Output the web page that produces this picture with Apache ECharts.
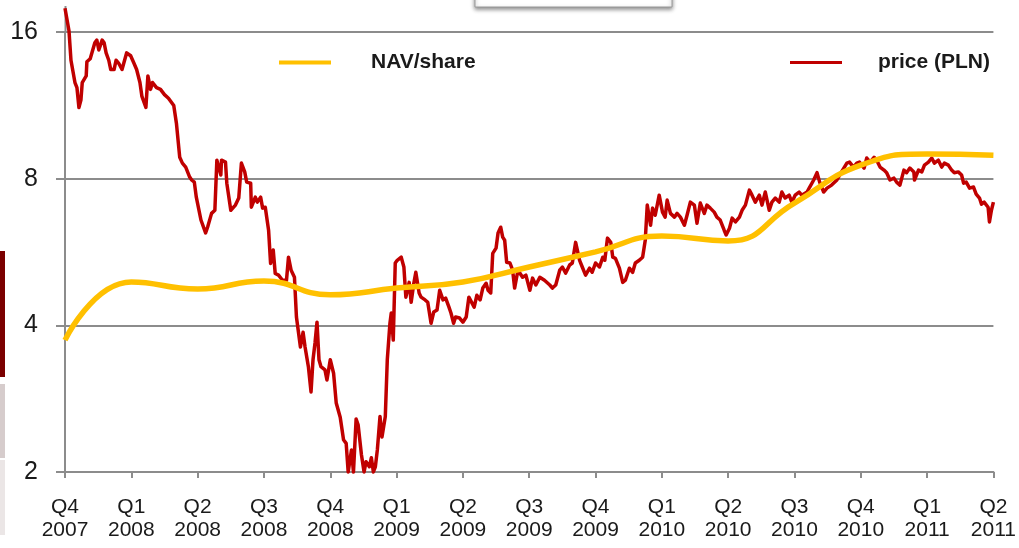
<!DOCTYPE html>
<html>
<head>
<meta charset="utf-8">
<script src="https://cdn.jsdelivr.net/npm/echarts@6/dist/echarts.min.js"></script>
<style>html,body{margin:0;padding:0;background:#fff;}#c{width:1019px;height:548px;}</style>
</head>
<body>
<div id="c"></div>
<script>
// Quarter tick labels (x positions 0..14)
const quarterLabels = ['Q4\n2007','Q1\n2008','Q2\n2008','Q3\n2008','Q4\n2008','Q1\n2009','Q2\n2009','Q3\n2009','Q4\n2009','Q1\n2010','Q2\n2010','Q3\n2010','Q4\n2010','Q1\n2011','Q2\n2011'];
const yTicks = [2, 4, 8, 16];

// NAV/share, one value per quarter
const navValues = [3.73, 4.91, 4.75, 4.93, 4.62, 4.77, 4.91, 5.27, 5.66, 6.10, 5.96, 7.13, 8.53, 8.99, 8.94];

// Share price (PLN): [position in quarters since Q4 2007, price]
const priceValues = [
[0.00,17.9],[0.06,16.1],[0.09,14.0],[0.12,13.9],[0.15,12.6],[0.18,12.3],[0.21,11.2],[0.24,11.6],[0.26,12.6],[0.29,12.6],[0.32,13.0],[0.33,13.9],[0.38,14.1],[0.41,14.1],[0.45,15.2],[0.48,15.4],[0.51,14.7],[0.56,15.4],[0.59,15.2],[0.62,14.5],[0.66,14.0],[0.69,13.4],[0.74,13.4],[0.77,14.0],[0.81,13.8],[0.86,13.4],[0.89,13.5],[0.93,14.5],[0.99,14.3],
[1.04,13.8],[1.08,13.4],[1.13,12.6],[1.16,11.8],[1.22,11.2],[1.25,13.0],[1.29,12.2],[1.32,12.6],[1.38,12.3],[1.44,12.2],[1.50,11.9],[1.56,11.7],[1.64,11.3],[1.68,10.4],[1.73,8.85],[1.77,8.61],[1.82,8.45],[1.88,8.06],[1.91,7.95],[1.95,7.87],[1.98,7.33],
[2.05,6.58],[2.08,6.52],[2.12,6.19],[2.15,6.36],[2.21,6.79],[2.26,6.89],[2.29,8.73],[2.35,8.14],[2.36,8.73],[2.42,8.65],[2.44,7.83],[2.50,6.89],[2.57,7.06],[2.62,7.30],[2.66,8.61],[2.71,8.26],[2.74,7.87],[2.80,7.83],[2.81,6.99],[2.87,7.33],[2.90,7.16],[2.95,7.33],[2.98,6.96],
[3.02,6.99],[3.07,6.27],[3.10,5.36],[3.14,5.71],[3.17,5.11],[3.22,5.07],[3.28,4.95],[3.34,4.95],[3.37,5.52],[3.41,5.19],[3.46,5.02],[3.49,4.16],[3.55,3.61],[3.59,3.87],[3.62,3.61],[3.67,3.29],[3.71,2.92],[3.74,3.40],[3.77,3.68],[3.80,4.06],[3.83,3.40],[3.86,3.29],[3.92,3.24],[3.95,3.09],
[4.00,3.40],[4.05,3.19],[4.09,2.77],[4.15,2.59],[4.20,2.33],[4.24,2.29],[4.27,2.00],[4.32,2.22],[4.35,2.00],[4.39,2.57],[4.42,2.50],[4.47,2.17],[4.51,2.00],[4.54,2.10],[4.59,2.05],[4.62,2.14],[4.65,2.00],[4.68,2.05],[4.71,2.22],[4.75,2.60],[4.78,2.36],[4.83,2.60],[4.86,3.40],[4.90,4.04],[4.92,4.24],[4.95,3.73],
[4.98,5.37],[5.01,5.44],[5.07,5.52],[5.11,5.27],[5.14,4.57],[5.19,4.90],[5.22,4.46],[5.26,4.88],[5.29,5.14],[5.34,4.66],[5.37,4.57],[5.43,4.51],[5.47,4.46],[5.52,4.04],[5.56,4.26],[5.61,4.30],[5.65,4.72],[5.70,4.51],[5.74,4.55],[5.79,4.36],[5.82,4.24],[5.86,4.04],[5.89,4.16],[5.95,4.14],
[6.00,4.06],[6.05,4.16],[6.09,4.57],[6.12,4.57],[6.17,4.36],[6.21,4.61],[6.26,4.51],[6.30,4.77],[6.35,4.88],[6.38,4.72],[6.42,4.66],[6.45,5.62],[6.50,5.76],[6.53,6.19],[6.57,6.36],[6.60,6.07],[6.63,5.98],[6.66,5.39],[6.71,5.37],[6.75,5.19],[6.78,4.77],[6.83,5.19],[6.90,5.02],[6.95,5.07],
[7.01,4.72],[7.05,5.00],[7.10,4.84],[7.16,5.02],[7.23,4.95],[7.31,4.84],[7.35,4.77],[7.40,4.84],[7.46,5.19],[7.50,5.27],[7.55,5.12],[7.61,5.32],[7.65,5.37],[7.70,5.92],[7.76,5.44],[7.80,5.27],[7.85,5.07],[7.91,5.24],[7.95,5.14],
[8.00,5.37],[8.06,5.27],[8.11,5.52],[8.14,5.44],[8.18,6.04],[8.23,5.92],[8.26,5.52],[8.30,5.49],[8.36,5.24],[8.41,4.90],[8.45,4.95],[8.51,5.24],[8.56,5.14],[8.60,5.37],[8.66,5.44],[8.71,5.52],[8.75,5.98],[8.78,7.06],[8.83,6.42],[8.86,6.96],[8.90,6.73],[8.96,7.40],
[9.01,6.83],[9.05,6.67],[9.08,7.23],[9.13,6.79],[9.19,6.67],[9.23,6.79],[9.28,6.67],[9.34,6.42],[9.38,6.73],[9.43,7.16],[9.49,7.06],[9.53,6.48],[9.58,7.13],[9.64,6.79],[9.68,7.06],[9.73,6.96],[9.79,6.83],[9.83,6.67],[9.88,6.58],[9.94,6.27],[9.97,6.13],
[10.02,6.33],[10.06,6.64],[10.11,6.52],[10.17,6.67],[10.21,6.89],[10.26,7.06],[10.32,7.58],[10.36,7.40],[10.41,7.16],[10.47,7.40],[10.51,7.06],[10.56,7.51],[10.62,6.89],[10.66,7.16],[10.71,7.30],[10.77,7.16],[10.81,7.51],[10.86,7.30],[10.92,7.40],[10.96,7.16],
[11.01,7.40],[11.07,7.51],[11.11,7.40],[11.19,7.51],[11.23,7.69],[11.29,7.95],[11.34,8.23],[11.38,7.87],[11.44,7.51],[11.49,7.65],[11.56,7.76],[11.64,7.95],[11.71,8.26],[11.79,8.61],[11.83,8.65],[11.89,8.45],[11.94,8.61],[11.98,8.65],
[12.05,8.41],[12.09,8.82],[12.14,8.65],[12.20,8.85],[12.24,8.73],[12.29,8.45],[12.35,8.33],[12.39,8.23],[12.44,7.95],[12.50,8.02],[12.54,7.87],[12.59,7.76],[12.65,8.33],[12.69,8.23],[12.74,8.41],[12.80,8.26],[12.81,7.95],[12.87,8.33],[12.92,8.26],[12.96,8.53],
[13.02,8.65],[13.07,8.82],[13.11,8.61],[13.17,8.73],[13.22,8.45],[13.26,8.61],[13.32,8.53],[13.37,8.33],[13.41,8.23],[13.47,8.26],[13.52,8.14],[13.55,7.83],[13.59,7.87],[13.64,7.65],[13.70,7.69],[13.74,7.44],[13.79,7.30],[13.82,7.09],[13.86,7.16],[13.92,6.99],[13.94,6.52],[13.97,6.89],[14.00,7.16]
];

const navData = navValues.map((v, i) => [i, v]);

const chart = echarts.init(document.getElementById('c'), null, {renderer: 'canvas'});
const axisGrey = '#8c8c8c';
const fontFam = '"Liberation Sans", Arial, sans-serif';

chart.setOption({
  animation: false,
  backgroundColor: '#ffffff',
  grid: {left: 65, right: 21, top: 32, bottom: 76, containLabel: false},
  legend: [
    {
      data: ['NAV/share'], left: 279, top: 52, padding: 0, icon: 'rect', itemWidth: 52, itemHeight: 4,
      textStyle: {fontFamily: fontFam, fontWeight: 'bold', fontSize: 21, color: '#1a1a1a', padding: [0, 0, 0, 35]},
      selectedMode: false
    },
    {
      data: ['price (PLN)'], left: 790, top: 52, padding: 0, icon: 'rect', itemWidth: 52, itemHeight: 3,
      textStyle: {fontFamily: fontFam, fontWeight: 'bold', fontSize: 21, color: '#1a1a1a', padding: [0, 0, 12, 31]},
      selectedMode: false
    }
  ],
  xAxis: {
    type: 'value', min: 0, max: quarterLabels.length - 1, interval: 1,
    axisLine: {show: true, lineStyle: {color: axisGrey, width: 2}},
    axisTick: {show: true, length: 6, lineStyle: {color: axisGrey, width: 2}},
    splitLine: {show: false},
    axisLabel: {
      formatter: v => quarterLabels[Math.round(v)] || '',
      fontFamily: fontFam, fontSize: 21, lineHeight: 23, color: '#1a1a1a', margin: 24,
      showMinLabel: true, showMaxLabel: true
    }
  },
  yAxis: {
    type: 'log', logBase: 2, min: yTicks[0], max: yTicks[yTicks.length - 1],
    axisLine: {show: true, lineStyle: {color: axisGrey, width: 2}},
    axisTick: {show: true, length: 9, lineStyle: {color: axisGrey, width: 2}},
    splitLine: {show: true, lineStyle: {color: axisGrey, width: 2}},
    axisLabel: {
      formatter: v => (yTicks.indexOf(Math.round(v)) >= 0 ? String(Math.round(v)) : ''),
      fontFamily: fontFam, fontSize: 25, color: '#1a1a1a', margin: 27
    }
  },
  series: [
    {
      name: 'NAV/share', type: 'line', data: navData, smooth: 0.5, showSymbol: false, clip: false,
      lineStyle: {color: '#ffc000', width: 5.5}, itemStyle: {color: '#ffc000'}, z: 3
    },
    {
      name: 'price (PLN)', type: 'line', data: priceValues, smooth: false, showSymbol: false, clip: false,
      lineStyle: {color: '#c00000', width: 3.5, join: 'round'}, itemStyle: {color: '#c00000'}, z: 2
    }
  ],
  graphic: [
    {type: 'line', shape: {x1: 65.5, y1: 6, x2: 65.5, y2: 33}, style: {stroke: axisGrey, lineWidth: 2}, silent: true},
    {type: 'rect', shape: {x: 475, y: -10, width: 197, height: 17}, style: {fill: '#ffffff', stroke: '#9a9a9a', lineWidth: 1, shadowBlur: 4, shadowColor: 'rgba(0,0,0,0.45)', shadowOffsetY: 2}, silent: true},
    {type: 'rect', shape: {x: 0, y: 251, width: 5, height: 126}, style: {fill: '#7b0000'}, silent: true},
    {type: 'rect', shape: {x: 0, y: 384, width: 5, height: 74}, style: {fill: '#d6cccc'}, silent: true},
    {type: 'rect', shape: {x: 0, y: 460, width: 5, height: 75}, style: {fill: '#ebe6e6'}, silent: true}
  ]
});
</script>
</body>
</html>
